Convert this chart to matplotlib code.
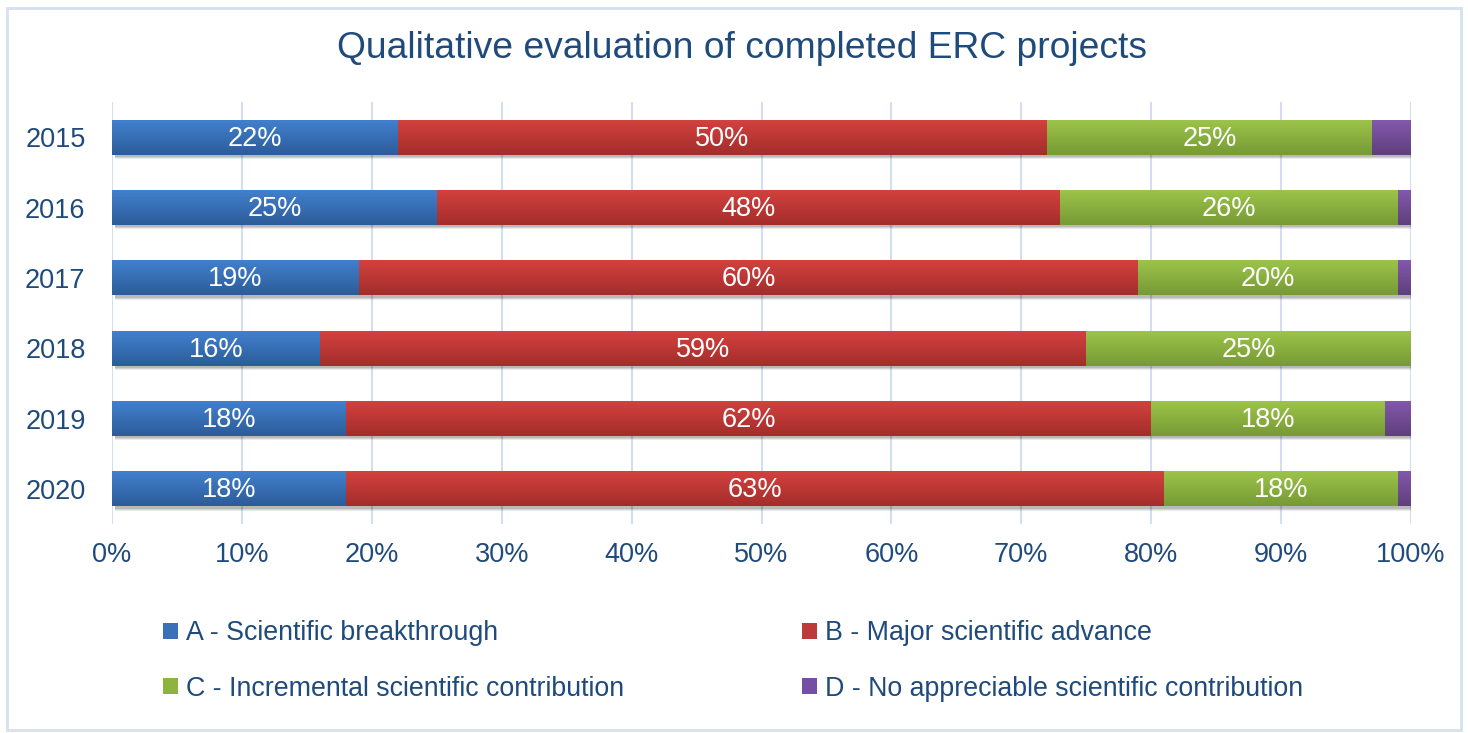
import matplotlib
matplotlib.use("Agg")
import matplotlib.pyplot as plt
import numpy as np
from matplotlib.colors import LinearSegmentedColormap
from matplotlib.patches import Patch, Rectangle

plt.rcParams['font.family'] = ['Liberation Sans', 'DejaVu Sans']

years = ["2015", "2016", "2017", "2018", "2019", "2020"]
series_names = ["A - Scientific breakthrough", "B - Major scientific advance",
                "C - Incremental scientific contribution", "D - No appreciable scientific contribution"]
A = [22, 25, 19, 16, 18, 18]
B = [50, 48, 60, 59, 62, 63]
C = [25, 26, 20, 25, 18, 18]
D = [3, 1, 1, 0, 2, 1]
xticks = [0, 10, 20, 30, 40, 50, 60, 70, 80, 90, 100]

series = [A, B, C, D]
top_cols = ["#4281cf", "#d4423f", "#9dc54a", "#8459ac"]
bot_cols = ["#2c5c99", "#a32d2b", "#779a35", "#5f3f7d"]
mid_cols = ["#3a70b8", "#c0393a", "#8cb43f", "#7450a0"]
text_col = "#1f4a7c"

fig = plt.figure(figsize=(14.68, 7.33), dpi=100)
fig.patches.append(Rectangle((7/1468, 3/733), 1454/1468, 722/733, transform=fig.transFigure,
                             fill=False, edgecolor="#d6e1ef", linewidth=2))
ax = fig.add_axes([112/1468, 1 - 524/733, 1299/1468, 422/733])

ypos = np.arange(len(years))
h = 0.5
left = np.zeros(len(years))
grad = np.linspace(0, 1, 64).reshape(-1, 1)

# shadows
totals = np.sum(series, axis=0)
for off, a in [(0.06, 0.08), (0.045, 0.10), (0.03, 0.12)]:
    ax.barh(ypos + off, totals, height=h, left=0.25, color="#000000", alpha=a,
            linewidth=0, zorder=2)

for s, vals in enumerate(series):
    bars = ax.barh(ypos, vals, height=h, left=left, color=mid_cols[s], linewidth=0,
                   zorder=3, label=series_names[s])
    cmap = LinearSegmentedColormap.from_list("g%d" % s, [bot_cols[s], top_cols[s]])
    for i, bar in enumerate(bars):
        if vals[i] <= 0:
            continue
        im = ax.imshow(grad, cmap=cmap, origin="lower", aspect="auto",
                       extent=(left[i], left[i] + vals[i], ypos[i] + h / 2, ypos[i] - h / 2),
                       zorder=4, interpolation="bilinear")
        im.set_clip_path(bar)
        if s < 3:
            ax.text(left[i] + vals[i] / 2, ypos[i] + 0.02, "%d%%" % vals[i], ha="center",
                    va="center", color="white", fontsize=19.5, zorder=5)
    left = left + np.array(vals)

ax.set_xlim(0, 100)
ax.set_ylim(len(years) - 0.5, -0.5)
ax.set_xticks(xticks)
ax.set_xticklabels(["%d%%" % t for t in xticks])
ax.set_yticks(ypos)
ax.set_yticklabels(years)
ax.tick_params(length=0, labelsize=19.5, labelcolor=text_col)
ax.tick_params(axis="x", pad=13)
ax.tick_params(axis="y", pad=19)
for sp in ax.spines.values():
    sp.set_visible(False)
ax.grid(axis="x", color="#d3dff0", linewidth=1.5, zorder=0)
ax.set_axisbelow(True)

fig.text(742/1468, 1 - 48/733, "Qualitative evaluation of completed ERC projects",
         ha="center", va="center", fontsize=26.8, color=text_col)

order = [0, 2, 1, 3]
handles = [Patch(facecolor=mid_cols[i], edgecolor="none") for i in order]
labels = [series_names[i] for i in order]
fig.legend(handles, labels, loc="upper left", bbox_to_anchor=(150/1468, 1 - 607/733),
           ncol=2, frameon=False, fontsize=19.3, labelcolor=text_col,
           handlelength=0.55, handleheight=0.55, handletextpad=0.3,
           columnspacing=6.63, labelspacing=1.1, borderpad=0)

fig.savefig("out.png", dpi=100)
